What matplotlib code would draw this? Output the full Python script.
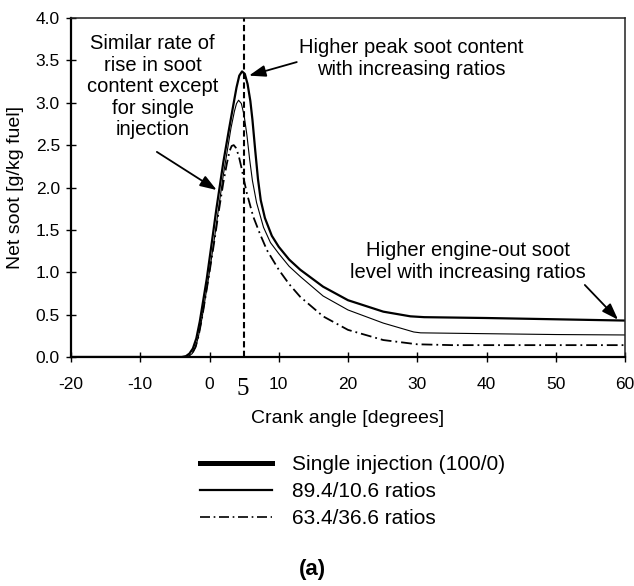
import matplotlib
matplotlib.use("Agg")
import matplotlib.pyplot as plt
from matplotlib.lines import Line2D

plt.rcParams['font.family'] = ['Liberation Sans', 'DejaVu Sans']

# net soot traces vs crank angle
ca_single = [-20, -4.0, -3.4, -2.9, -2.4, -1.9, -1.4, -0.4, 0.5, 1.0, 2.0, 2.8, 3.5,
             3.9, 4.3, 4.7, 5.1, 5.5, 5.9, 6.2, 6.6, 7.0, 7.4, 8.0, 9.0, 10.0, 11.5,
             13.1, 16.4, 20.0, 25.1, 29.0, 31.0, 40.0, 50.0, 60.0]
soot_single = [0, 0, 0.01, 0.04, 0.1, 0.22, 0.42, 0.92, 1.45, 1.75, 2.3, 2.68, 3.0,
               3.18, 3.32, 3.37, 3.34, 3.22, 3.02, 2.8, 2.44, 2.1, 1.85, 1.64, 1.43, 1.30, 1.15,
               1.03, 0.83, 0.67, 0.535, 0.48, 0.47, 0.46, 0.445, 0.43]

ca_894 = [-20, -3.6, -3.0, -2.5, -2.0, -1.6, -1.1, -0.1, 0.8, 1.3, 2.0, 2.6, 3.1,
          3.6, 3.9, 4.2, 4.6, 5.0, 5.4, 5.8, 6.2, 6.8, 7.8, 8.8, 10.0, 11.5, 13.1,
          16.4, 20.0, 25.1, 29.5, 30.5, 40.0, 50.0, 60.0]
soot_894 = [0, 0, 0.01, 0.04, 0.12, 0.24, 0.45, 0.95, 1.45, 1.75, 2.15, 2.45, 2.7,
            2.9, 2.99, 3.03, 2.99, 2.85, 2.62, 2.33, 2.08, 1.82, 1.53, 1.35, 1.22, 1.07, 0.95,
            0.72, 0.555, 0.40, 0.295, 0.285, 0.275, 0.265, 0.26]

ca_634 = [-20, -3.6, -3.0, -2.5, -2.0, -1.6, -1.1, -0.1, 0.8, 1.3, 2.0, 2.5, 2.9,
          3.2, 3.5, 3.8, 4.2, 4.6, 5.0, 5.4, 6.3, 7.3, 8.3, 10.0, 11.5, 13.1, 16.4,
          20.0, 25.1, 30.0, 35.0, 60.0]
soot_634 = [0, 0, 0.01, 0.04, 0.12, 0.24, 0.45, 0.95, 1.42, 1.7, 2.06, 2.28, 2.43,
            2.49, 2.5, 2.47, 2.38, 2.24, 2.08, 1.93, 1.66, 1.45, 1.26, 1.03, 0.86, 0.71, 0.48,
            0.32, 0.20, 0.15, 0.14, 0.14]

labels = ['Single injection (100/0)', '89.4/10.6 ratios', '63.4/36.6 ratios']
xticks = [-20, -10, 0, 10, 20, 30, 40, 50, 60]
yticks = [0.0, 0.5, 1.0, 1.5, 2.0, 2.5, 3.0, 3.5, 4.0]
marker_ca = 5

dashdot = (0, (6, 2.2, 1, 2.2))

fig = plt.figure(figsize=(6.34, 5.86), dpi=100)
ax = fig.add_axes([71 / 634, 1 - 357 / 586, 554 / 634, 339 / 586])

ax.plot(ca_single, soot_single, color='k', lw=1.6)
ax.plot(ca_894, soot_894, color='k', lw=0.8)
ax.plot(ca_634, soot_634, color='k', lw=1.3, linestyle=dashdot)
ax.axvline(marker_ca, color='k', lw=1.5, linestyle=(0, (3, 1.6)))

ax.set_xlim(-20, 60)
ax.set_ylim(0, 4)
ax.set_xticks(xticks)
ax.set_xticklabels([str(t) for t in xticks])
ax.set_yticks(yticks)
ax.set_yticklabels(['%.1f' % t for t in yticks])
ax.tick_params(axis='x', direction='inout', length=7.5, width=1, labelsize=12.5, pad=10.5)
ax.tick_params(axis='y', direction='inout', length=7, width=1, labelsize=12.5, pad=4.5)
for s in ['left', 'bottom']:
    ax.spines[s].set_linewidth(1.6)
for s in ['top', 'right']:
    ax.spines[s].set_linewidth(1.1)
    ax.spines[s].set_color('#222222')

ax.set_xlabel('Crank angle [degrees]', fontsize=14, labelpad=13)
ax.set_ylabel('Net soot [g/kg fuel]', fontsize=14, labelpad=8)

# the "5" under the dashed marker
ax.text(4.8, -0.094, '5', transform=ax.get_xaxis_transform(), ha='center', va='center',
        fontsize=18, family='Liberation Serif', clip_on=False)

arrow = dict(arrowstyle='-|>,head_length=1.0,head_width=0.35', color='k', lw=1.3,
             shrinkA=0, shrinkB=0)
ax.text(-8.2, 3.19, 'Similar rate of\nrise in soot\ncontent except\nfor single\ninjection',
        ha='center', va='center', fontsize=14.5, linespacing=1.17)
ax.annotate('', xy=(1.04, 1.97), xytext=(-7.6, 2.42), arrowprops=arrow)
ax.text(29.2, 3.52, 'Higher peak soot content\nwith increasing ratios',
        ha='center', va='center', fontsize=14.5, linespacing=1.17)
ax.annotate('', xy=(5.7, 3.32), xytext=(12.6, 3.48), arrowprops=arrow)
ax.text(37.3, 1.13, 'Higher engine-out soot\nlevel with increasing ratios',
        ha='center', va='center', fontsize=14.5, linespacing=1.17)
ax.annotate('', xy=(59.0, 0.44), xytext=(54.2, 0.85), arrowprops=arrow)

handles = [Line2D([], [], color='k', lw=3.6),
           Line2D([], [], color='k', lw=1.6),
           Line2D([], [], color='k', lw=1.2, linestyle=dashdot)]
fig.legend(handles, labels, loc='upper left', bbox_to_anchor=(200 / 634, 1 - 455 / 586),
           frameon=False, fontsize=15, handlelength=3.45, handletextpad=0.96,
           labelspacing=0.39, borderpad=0, borderaxespad=0)

fig.text(312 / 634, 1 - 570 / 586, '(a)', ha='center', va='center', fontsize=16,
         fontweight='bold')

fig.savefig('out.png', dpi=100)
